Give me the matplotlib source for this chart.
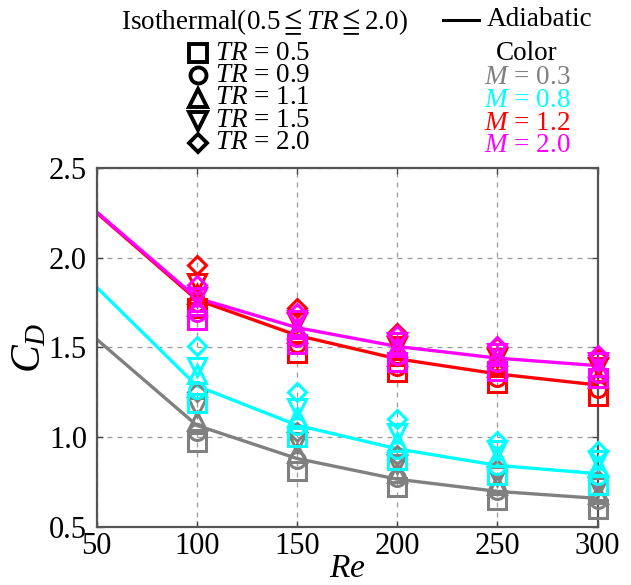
import matplotlib
matplotlib.use("Agg")
import matplotlib.pyplot as plt
from matplotlib.lines import Line2D

plt.rcParams['font.family'] = ['Liberation Serif', 'Noto Sans CJK JP']
plt.rcParams['mathtext.fontset'] = 'custom'
plt.rcParams['mathtext.rm'] = 'Liberation Serif'
plt.rcParams['mathtext.it'] = 'Liberation Serif:italic'
plt.rcParams['mathtext.fallback'] = 'stix'

# ---- data -------------------------------------------------------------
re_adiabatic = [50, 100, 150, 200, 250, 300]
re_isothermal = [100, 150, 200, 250, 300]

mach_labels = ['0.3', '0.8', '1.2', '2.0']
mach_colors = ['#808080', '#00ffff', '#ff0000', '#ff00ff']

tr_labels = ['0.5', '0.9', '1.1', '1.5', '2.0']
tr_markers = ['s', 'o', '^', 'v', 'D']

# adiabatic drag coefficient, one list per Mach number
cd_adiabatic_m03 = [1.545, 1.065, 0.880, 0.765, 0.697, 0.658]
cd_adiabatic_m08 = [1.835, 1.285, 1.066, 0.934, 0.842, 0.796]
cd_adiabatic_m12 = [2.250, 1.765, 1.567, 1.436, 1.352, 1.290]
cd_adiabatic_m20 = [2.255, 1.775, 1.610, 1.505, 1.440, 1.398]

# isothermal drag coefficient: rows TR = 0.5, 0.9, 1.1, 1.5, 2.0
cd_iso_m03 = [[0.97, 0.81, 0.72, 0.65, 0.60],
              [1.03, 0.87, 0.77, 0.70, 0.65],
              [1.09, 0.91, 0.80, 0.73, 0.68],
              [1.17, 0.97, 0.85, 0.78, 0.72],
              [1.25, 1.03, 0.90, 0.82, 0.76]]
cd_iso_m08 = [[1.19, 1.00, 0.87, 0.79, 0.73],
              [1.26, 1.06, 0.93, 0.84, 0.78],
              [1.35, 1.11, 0.97, 0.89, 0.84],
              [1.39, 1.16, 1.02, 0.93, 0.87],
              [1.51, 1.25, 1.10, 0.98, 0.92]]
cd_iso_m12 = [[1.72, 1.47, 1.36, 1.30, 1.23],
              [1.75, 1.52, 1.39, 1.33, 1.27],
              [1.80, 1.58, 1.45, 1.39, 1.33],
              [1.86, 1.64, 1.51, 1.44, 1.39],
              [1.96, 1.72, 1.58, 1.50, 1.44]]
cd_iso_m20 = [[1.65, 1.52, 1.42, 1.37, 1.33],
              [1.69, 1.55, 1.45, 1.41, 1.35],
              [1.73, 1.60, 1.50, 1.45, 1.39],
              [1.78, 1.65, 1.53, 1.47, 1.42],
              [1.85, 1.69, 1.57, 1.51, 1.46]]

cd_adiabatic = [cd_adiabatic_m03, cd_adiabatic_m08, cd_adiabatic_m12, cd_adiabatic_m20]
cd_isothermal = [cd_iso_m03, cd_iso_m08, cd_iso_m12, cd_iso_m20]

x_ticks = [50, 100, 150, 200, 250, 300]
y_ticks = [0.5, 1.0, 1.5, 2.0, 2.5]

# ---- figure -----------------------------------------------------------
W, H = 631, 585
fig = plt.figure(figsize=(W / 100, H / 100), dpi=100)
AX_L, AX_T, AX_W, AX_H = 96.7, 168.0, 500.8, 358.7
ax = fig.add_axes([AX_L / W, 1 - (AX_T + AX_H) / H, AX_W / W, AX_H / H])

marker_sizes = {'s': 12.5, 'o': 11.5, '^': 12.5, 'v': 12.5, 'D': 9.5}

for k, color in enumerate(mach_colors):
    ax.plot(re_adiabatic, cd_adiabatic[k], color=color, lw=2.4,
            zorder=2 + k * 0.1, solid_capstyle='butt')
for k, color in enumerate(mach_colors):
    for j, m in enumerate(tr_markers):
        ax.plot(re_isothermal, cd_isothermal[k][j], ls='none', marker=m,
                ms=marker_sizes[m], mfc='none', mec=color, mew=2.2,
                zorder=3 + k * 0.1, clip_on=False)

ax.set_xlim(50, 300)
ax.set_ylim(0.5, 2.5)
ax.set_xticks(x_ticks)
ax.set_yticks(y_ticks)
ax.set_xticklabels([str(v) for v in x_ticks])
ax.set_yticklabels([f'{v:.1f}' for v in y_ticks])
ax.tick_params(direction='in', length=4, width=1.0, color='#444444',
               labelsize=22, top=True, right=True, pad=7)
ax.tick_params(axis='x', pad=4)
ax.grid(True, color='#9a9a9a', lw=0.9, ls=(0, (4, 4)))
ax.set_axisbelow(True)
for s in ax.spines.values():
    s.set_color('#555555')
    s.set_linewidth(1.6)

ax.set_xlabel('$Re$', fontsize=24, va='baseline')
ax.xaxis.set_label_coords(0.5, -(577 - (AX_T + AX_H)) / AX_H)
ax.set_ylabel('$C_D$', fontsize=30, labelpad=0)


def fx(px):
    return px / W


def fy(py):
    return 1 - py / H


# ---- legend block -----------------------------------------------------
fs = 19.5
fig.text(fx(265), fy(22), r'Isothermal(0.5$\leqq$$TR$$\leqq$2.0)', fontsize=fs,
         ha='center', va='center')

row_y = [53, 75, 98, 121, 143]
for j, m in enumerate(tr_markers):
    fig.add_artist(Line2D([fx(198)], [fy(row_y[j])], transform=fig.transFigure,
                          ls='none', marker=m, ms=marker_sizes[m],
                          mfc='none', mec='black', mew=2.8))
tr_block = '\n'.join(f'$TR$ = {v}' for v in tr_labels)
fig.text(fx(215), fy((row_y[0] + row_y[-1]) / 2), tr_block, fontsize=fs,
         ha='left', va='center', linespacing=0.85)

fig.add_artist(Line2D([fx(443), fx(479)], [fy(20), fy(20)],
                      transform=fig.transFigure, color='black', lw=2.2))
fig.text(fx(487), fy(20), 'Adiabatic', fontsize=fs, ha='left', va='center')
fig.text(fx(527), fy(53), 'Color', fontsize=fs, ha='center', va='center')
m_y = [77, 100, 123, 146]
for k, color in enumerate(mach_colors):
    fig.text(fx(527), fy(m_y[k]), f'$M$ = {mach_labels[k]}', fontsize=fs,
             ha='center', va='center', color=color)

fig.savefig('out.png', dpi=100)
